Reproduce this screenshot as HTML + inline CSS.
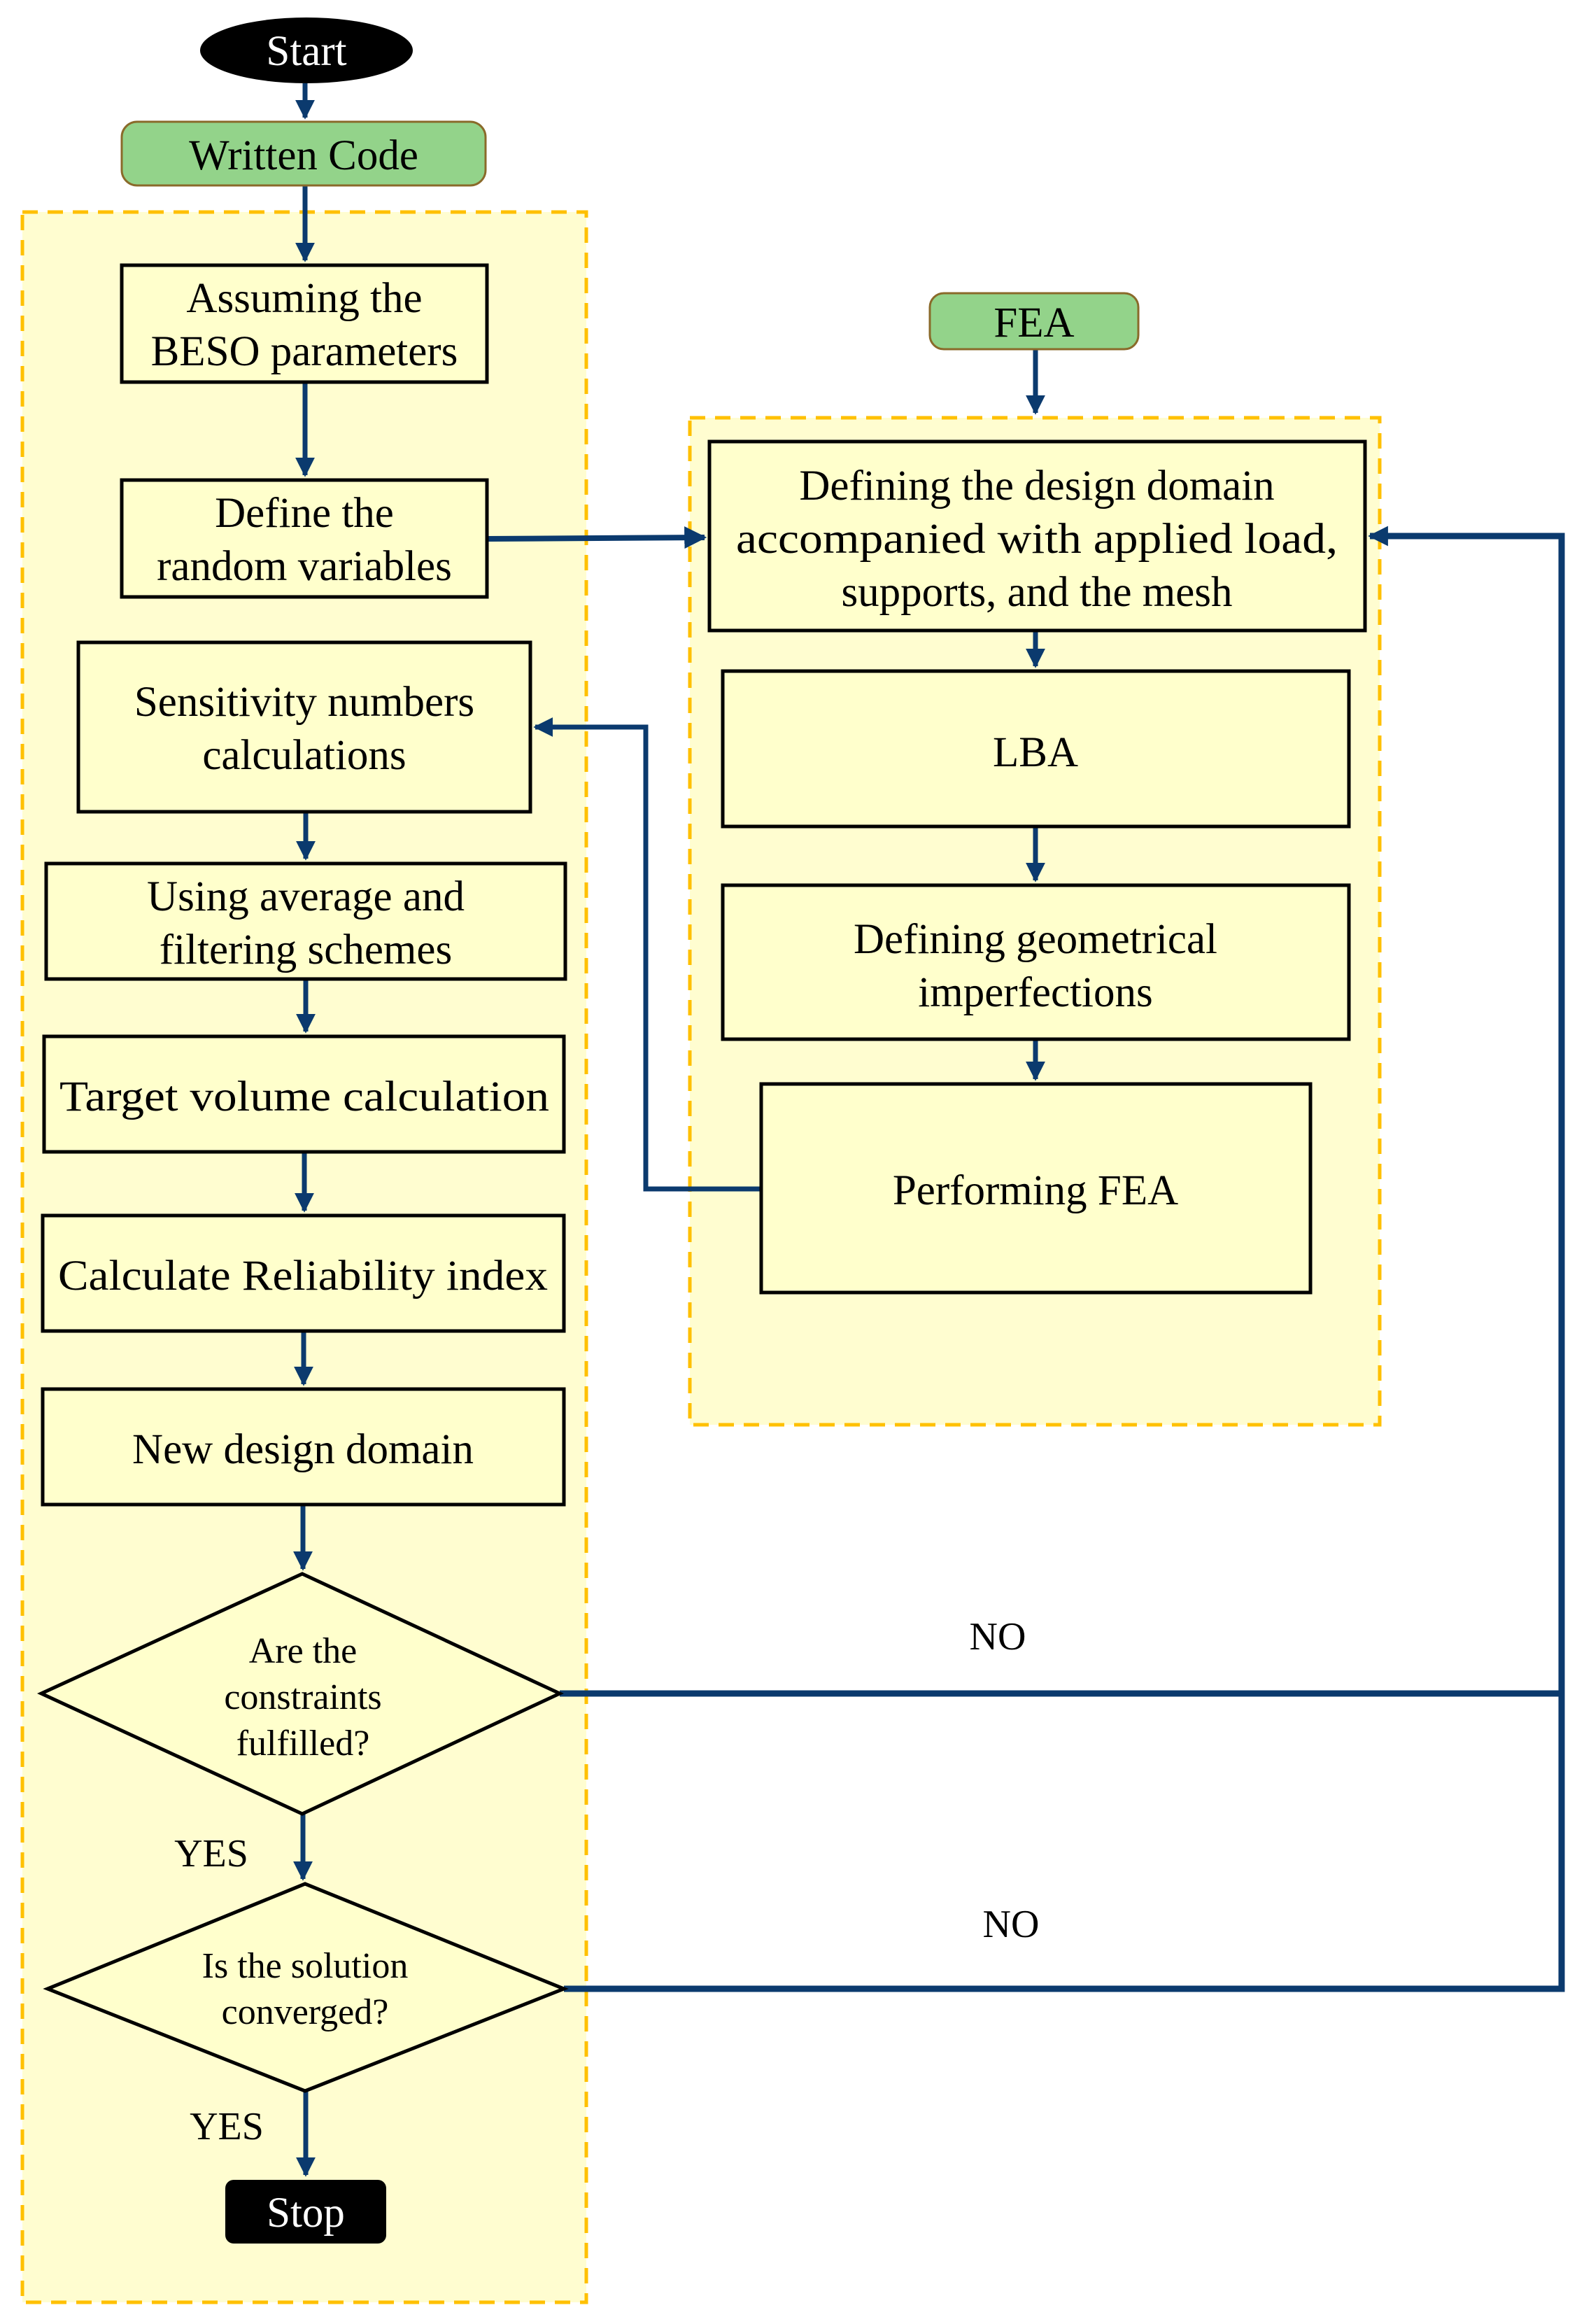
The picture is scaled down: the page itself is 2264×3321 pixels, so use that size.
<!DOCTYPE html>
<html><head><meta charset="utf-8"><style>body{margin:0;background:#fff}svg{display:block}</style></head><body>
<svg width="2264" height="3321" viewBox="0 0 2264 3321" xmlns="http://www.w3.org/2000/svg" font-family="'Liberation Serif', serif" font-size="61" text-anchor="middle">
<defs>
<marker id="a" viewBox="0 0 10 10" refX="9" refY="5" markerWidth="4" markerHeight="4" orient="auto-start-reverse" markerUnits="strokeWidth"><path d="M0,0 L10,5 L0,10 z" fill="#0b3a6e"/></marker>
<marker id="b" viewBox="0 0 10 10" refX="9" refY="5" markerWidth="3.2" markerHeight="3.2" orient="auto-start-reverse" markerUnits="strokeWidth"><path d="M0,0 L10,5 L0,10 z" fill="#0b3a6e"/></marker>
</defs>
<rect x="32" y="303" width="806" height="2987" fill="#fffdd0" stroke="#ffc000" stroke-width="5" stroke-dasharray="22,14"/>
<rect x="986" y="597" width="986" height="1439" fill="#fffdd0" stroke="#ffc000" stroke-width="5" stroke-dasharray="22,14"/>

<g stroke="#0b3a6e" stroke-width="7" fill="none">
<line x1="436" y1="119" x2="436" y2="168" marker-end="url(#a)"/>
<line x1="436" y1="265" x2="436" y2="372" marker-end="url(#a)"/>
<line x1="436" y1="546" x2="436" y2="679" marker-end="url(#a)"/>
<line x1="696" y1="770" x2="1007" y2="768" stroke-width="8" marker-end="url(#a)"/>
<line x1="437" y1="1160" x2="437" y2="1227" marker-end="url(#a)"/>
<line x1="437" y1="1399" x2="437" y2="1474" marker-end="url(#a)"/>
<line x1="435" y1="1646" x2="435" y2="1730" marker-end="url(#a)"/>
<line x1="434" y1="1902" x2="434" y2="1978" marker-end="url(#a)"/>
<line x1="433" y1="2150" x2="433" y2="2242" marker-end="url(#a)"/>
<line x1="433" y1="2592" x2="433" y2="2685" marker-end="url(#a)"/>
<line x1="437" y1="2988" x2="437" y2="3108" marker-end="url(#a)"/>
<line x1="1480" y1="499" x2="1480" y2="590" marker-end="url(#a)"/>
<line x1="1480" y1="901" x2="1480" y2="952" marker-end="url(#a)"/>
<line x1="1480" y1="1181" x2="1480" y2="1258" marker-end="url(#a)"/>
<line x1="1480" y1="1485" x2="1480" y2="1542" marker-end="url(#a)"/>
<polyline points="1088,1699 923,1699 923,1039 765,1039" marker-end="url(#a)"/>
<polyline points="800,2420 2232,2420 2232,766 1958,766" stroke-width="9" marker-end="url(#b)"/>
<polyline points="806,2842 2232,2842 2232,2420" stroke-width="9"/>
</g>

<ellipse cx="438" cy="72" rx="152" ry="47" fill="#000"/>
<text x="438" y="93" fill="#fff">Start</text>
<rect x="174" y="174" width="520" height="91" rx="22" fill="#93d38a" stroke="#8a6a2a" stroke-width="3"/>
<text x="434" y="242">Written Code</text>
<rect x="1329" y="419" width="298" height="80" rx="20" fill="#93d38a" stroke="#8a6a2a" stroke-width="3"/>
<text x="1478" y="481">FEA</text>
<rect x="322" y="3115" width="230" height="91" rx="12" fill="#000"/>
<text x="437" y="3182" fill="#fff">Stop</text>

<g fill="#ffffcc" stroke="#000" stroke-width="5">
<rect x="174" y="379" width="522" height="167"/>
<rect x="174" y="686" width="522" height="167"/>
<rect x="112" y="918" width="646" height="242"/>
<rect x="66" y="1234" width="742" height="165"/>
<rect x="63" y="1481" width="743" height="165"/>
<rect x="61" y="1737" width="745" height="165"/>
<rect x="61" y="1985" width="745" height="165"/>
<rect x="1014" y="631" width="937" height="270"/>
<rect x="1033" y="959" width="895" height="222"/>
<rect x="1033" y="1265" width="895" height="220"/>
<rect x="1088" y="1549" width="785" height="298"/>
<polygon points="432,2249 800,2420 432,2592 59,2420"/>
<polygon points="436,2692 806,2842 436,2988 68,2842"/>
</g>

<text x="435" y="446">Assuming the</text>
<text x="435" y="522">BESO parameters</text>
<text x="435" y="753">Define the</text>
<text x="435" y="829">random variables</text>
<text x="435" y="1023">Sensitivity numbers</text>
<text x="435" y="1099">calculations</text>
<text x="437" y="1301">Using average and</text>
<text x="437" y="1377">filtering schemes</text>
<text x="435" y="1587" textLength="700" lengthAdjust="spacingAndGlyphs">Target volume calculation</text>
<text x="433" y="1843" textLength="700" lengthAdjust="spacingAndGlyphs">Calculate Reliability index</text>
<text x="433" y="2091">New design domain</text>
<text x="1482" y="714">Defining the design domain</text>
<text x="1482" y="790" textLength="860" lengthAdjust="spacingAndGlyphs">accompanied with applied load,</text>
<text x="1482" y="866">supports, and the mesh</text>
<text x="1480" y="1095">LBA</text>
<text x="1480" y="1362">Defining geometrical</text>
<text x="1480" y="1438">imperfections</text>
<text x="1480" y="1721">Performing FEA</text>
<g font-size="52">
<text x="433" y="2376">Are the</text>
<text x="433" y="2442">constraints</text>
<text x="433" y="2508">fulfilled?</text>
<text x="436" y="2826">Is the solution</text>
<text x="436" y="2892">converged?</text>
</g>
<g font-size="56">
<text x="302" y="2667">YES</text>
<text x="324" y="3057">YES</text>
<text x="1426" y="2357">NO</text>
<text x="1445" y="2768">NO</text>
</g>
</svg>
</body></html>
